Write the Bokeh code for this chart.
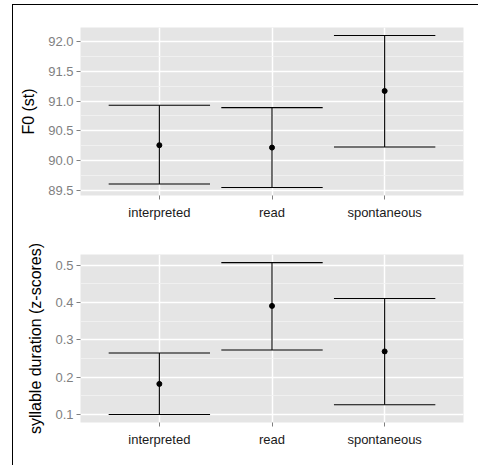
from bokeh.plotting import figure
from bokeh.layouts import column, row
from bokeh.models import ColumnDataSource, FactorRange, FixedTicker, Spacer
from bokeh.transform import dodge
from bokeh.embed import file_html
from bokeh.resources import INLINE

conditions = ["interpreted", "read", "spontaneous"]

f0_mean = [90.26, 90.22, 91.17]
f0_lower = [89.61, 89.55, 90.23]
f0_upper = [90.93, 90.89, 92.10]
f0_ticks = [89.5, 90.0, 90.5, 91.0, 91.5, 92.0]

dur_mean = [0.182, 0.391, 0.269]
dur_lower = [0.100, 0.273, 0.126]
dur_upper = [0.265, 0.507, 0.411]
dur_ticks = [0.1, 0.2, 0.3, 0.4, 0.5]

FONT = "Liberation Sans"
PANEL_BG = "#E5E5E5"


def make_panel(mean, lower, upper, ticks, y_start, y_end, ylabel, fmt,
               width, height, left, top, bottom, right):
    src = ColumnDataSource(dict(cond=conditions, mean=mean, lower=lower, upper=upper))
    p = figure(x_range=FactorRange(*conditions, range_padding=0.2, range_padding_units="absolute"),
               y_range=(y_start, y_end),
               width=width, height=height,
               output_backend="svg", toolbar_location=None)
    p.min_border_left = left
    p.min_border_top = top
    p.min_border_bottom = bottom
    p.min_border_right = right
    p.background_fill_color = PANEL_BG
    p.border_fill_color = "white"
    p.outline_line_color = None

    p.xgrid.grid_line_color = "white"
    p.xgrid.grid_line_width = 1.5
    p.ygrid.grid_line_color = "white"
    p.ygrid.grid_line_width = 1.5
    p.ygrid.minor_grid_line_color = "#F2F2F2"
    p.ygrid.minor_grid_line_width = 0.8
    minor = [(ticks[i] + ticks[i + 1]) / 2 for i in range(len(ticks) - 1)]
    p.yaxis.ticker = FixedTicker(ticks=ticks, minor_ticks=minor)
    p.yaxis.major_label_overrides = {t: fmt.format(t) for t in ticks}

    for ax in (p.xaxis, p.yaxis):
        ax.axis_line_color = None
        ax.major_tick_line_color = "#7F7F7F"
        ax.major_tick_out = 4
        ax.major_tick_in = 0
        ax.minor_tick_line_color = None
        ax.major_label_text_font = FONT
        ax.major_label_text_font_size = "13px"
        ax.major_label_text_color = "#7F7F7F"
    p.xaxis.major_label_text_color = "#1A1A1A"
    p.xaxis.major_label_standoff = 5
    p.yaxis.major_label_standoff = 3
    p.yaxis.axis_label = ylabel
    p.yaxis.axis_label_text_font = FONT
    p.yaxis.axis_label_text_font_size = "16px"
    p.yaxis.axis_label_text_font_style = "normal"
    p.yaxis.axis_label_text_color = "black"
    p.yaxis.axis_label_standoff = 8

    p.segment(x0="cond", x1="cond", y0="lower", y1="upper", source=src,
              line_color="black", line_width=1.1)
    p.segment(x0=dodge("cond", -0.45, range=p.x_range), x1=dodge("cond", 0.45, range=p.x_range),
              y0="upper", y1="upper", source=src, line_color="black", line_width=1.1)
    p.segment(x0=dodge("cond", -0.45, range=p.x_range), x1=dodge("cond", 0.45, range=p.x_range),
              y0="lower", y1="lower", source=src, line_color="black", line_width=1.1)
    p.scatter(x="cond", y="mean", source=src, size=5, color="black")
    return p


p1 = make_panel(f0_mean, f0_lower, f0_upper, f0_ticks, 89.416, 92.235, "F0 (st)", "{:.1f}",
                466, 235, 67, 22, 45, 15)
p2 = make_panel(dur_mean, dur_lower, dur_upper, dur_ticks, 0.0786, 0.5287,
                "syllable duration (z-scores)", "{:.1f}",
                466, 226, 61, 14, 44, 16)

inner = column(p1, p2, spacing=0, styles={"box-shadow": "-1px -1px 0 0 #000000"})
layout = column(Spacer(width=10, height=5), row(Spacer(width=13, height=10), inner, spacing=0),
                spacing=0)

open("out.html", "w").write(file_html(layout, INLINE))
